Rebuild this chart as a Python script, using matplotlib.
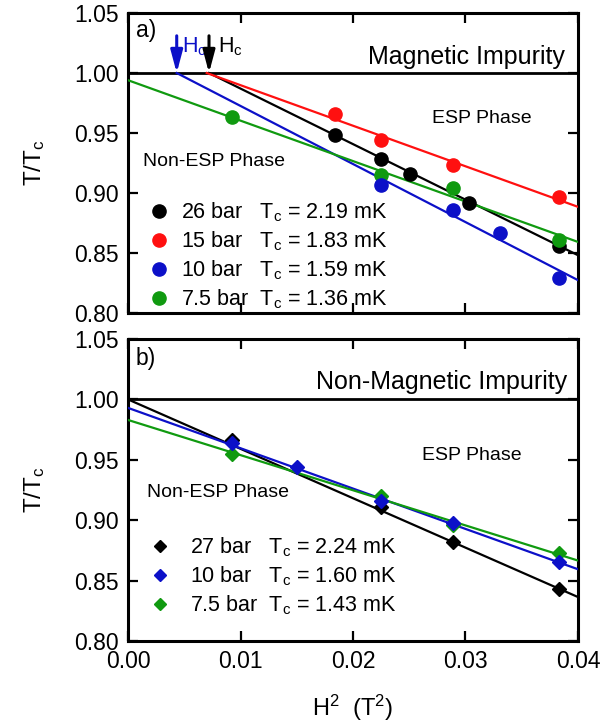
import numpy as np
import matplotlib
matplotlib.use('Agg')
import matplotlib.pyplot as plt
from matplotlib.lines import Line2D

plt.rcParams['font.family'] = ['Liberation Sans', 'DejaVu Sans']
plt.rcParams['mathtext.fontset'] = 'custom'
plt.rcParams['mathtext.rm'] = 'Liberation Sans'

# ---- panel a) magnetic impurity : H^2 (T^2) vs T/Tc ----
a_names = ['26 bar', '15 bar', '10 bar', '7.5 bar']
a_tc = ['2.19', '1.83', '1.59', '1.36']
a_colors = ['black', '#ff1010', '#0c10c8', '#109a10']

a_x = [
    [0.0184, 0.0225, 0.0251, 0.0303, 0.0383],
    [0.0184, 0.0225, 0.0289, 0.0383],
    [0.0225, 0.0289, 0.0331, 0.0383],
    [0.0092, 0.0225, 0.0289, 0.0383],
]
a_y = [
    [0.948, 0.928, 0.916, 0.892, 0.856],
    [0.966, 0.944, 0.923, 0.897],
    [0.907, 0.886, 0.867, 0.829],
    [0.963, 0.915, 0.904, 0.861],
]
# linear fits : start point (x0, y0) and slope
a_fit_x0 = [0.0072, 0.0070, 0.00433, 0.0]
a_fit_y0 = [1.0, 1.0, 1.0, 0.994]
a_fit_slope = [-4.63, -3.38, -4.84, -3.37]

# critical fields marked by arrows
hc_x = [0.00433, 0.0072]
hc_colors = ['#0c10c8', 'black']

# ---- panel b) non-magnetic impurity ----
b_names = ['27 bar', '10 bar', '7.5 bar']
b_tc = ['2.24', '1.60', '1.43']
b_colors = ['black', '#0c10c8', '#109a10']

b_x = [
    [0.0092, 0.0225, 0.0289, 0.0383],
    [0.0092, 0.0150, 0.0225, 0.0289, 0.0383],
    [0.0092, 0.0225, 0.0289, 0.0383],
]
b_y = [
    [0.966, 0.911, 0.882, 0.843],
    [0.964, 0.944, 0.916, 0.898, 0.865],
    [0.955, 0.920, 0.896, 0.873],
]
b_fit_x0 = [0.0, 0.0, 0.0]
b_fit_y0 = [1.0, 0.993, 0.983]
b_fit_slope = [-4.09, -3.34, -2.91]

yticks = [0.80, 0.85, 0.90, 0.95, 1.00, 1.05]
xticks = [0.00, 0.01, 0.02, 0.03, 0.04]


def style_axes(ax):
    ax.set_xlim(0, 0.04)
    ax.set_ylim(0.80, 1.05)
    ax.set_xticks(xticks)
    ax.set_yticks(yticks)
    ax.set_xticklabels(['%.2f' % t for t in xticks])
    ax.set_yticklabels(['%.2f' % t for t in yticks])
    ax.tick_params(direction='in', top=True, right=True, length=7.5, width=1.6,
                   labelsize=16.5, pad=6.5)
    for s in ax.spines.values():
        s.set_linewidth(2.2)
    ax.axhline(1.0, color='black', lw=2, zorder=2)
    ax.set_ylabel(r'$\mathregular{T/T_c}$', fontsize=17.5, labelpad=20)


def draw_fit(ax, x0, y0, slope, color):
    xs = np.array([x0, 0.041])
    ax.plot(xs, y0 + slope * (xs - x0), color=color, lw=1.6, zorder=3)


fig = plt.figure(figsize=(6.16, 7.23), dpi=100)
ax1 = fig.add_axes([0.2078, 0.5671, 0.7305, 0.4149])
ax2 = fig.add_axes([0.2078, 0.1134, 0.7305, 0.4177])

# panel a
style_axes(ax1)
ax1.tick_params(labelbottom=False)
for i in range(len(a_names)):
    draw_fit(ax1, a_fit_x0[i], a_fit_y0[i], a_fit_slope[i], a_colors[i])
for i in [1, 0, 3, 2]:
    ax1.plot(a_x[i], a_y[i], 'o', color=a_colors[i], ms=9.5, zorder=4)
handles = [Line2D([], [], ls='none', marker='o', color=c, ms=9.5) for c in a_colors]
sp = ['   ', '   ', '   ', '  ']
labels = [a_names[i] + sp[i] + r'$\mathregular{T_c}$ = ' + a_tc[i] + ' mK'
          for i in range(len(a_names))]
ax1.legend(handles, labels, loc='lower left', bbox_to_anchor=(0.047, 0.005),
           frameon=False, fontsize=15.5, handlelength=0.9, handletextpad=0.6,
           labelspacing=0.26, borderpad=0, borderaxespad=0)

for i in range(len(hc_x)):
    ax1.annotate('', xy=(hc_x[i], 1.0), xytext=(hc_x[i], 1.031),
                 arrowprops=dict(arrowstyle='-|>,head_length=0.75,head_width=0.2',
                                 color=hc_colors[i], lw=2.2, mutation_scale=18,
                                 shrinkA=0, shrinkB=0), zorder=5)
ax1.text(hc_x[0] + 0.0005, 1.017, r'$\mathregular{H_c}$', color=hc_colors[0], fontsize=15.5)
ax1.text(hc_x[1] + 0.0008, 1.017, r'$\mathregular{H_c}$', color=hc_colors[1], fontsize=15.5)

ax1.text(0.017, 0.919, 'a)', transform=ax1.transAxes, fontsize=16.5)
ax1.text(0.971, 0.83, 'Magnetic Impurity', transform=ax1.transAxes,
         fontsize=18, ha='right')
ax1.text(0.675, 0.632, 'ESP Phase', transform=ax1.transAxes, fontsize=14)
ax1.text(0.034, 0.491, 'Non-ESP Phase', transform=ax1.transAxes, fontsize=14)

# panel b
style_axes(ax2)
for i in range(len(b_names)):
    draw_fit(ax2, b_fit_x0[i], b_fit_y0[i], b_fit_slope[i], b_colors[i])
for i in [0, 2, 1]:
    ax2.plot(b_x[i], b_y[i], 'D', color=b_colors[i], ms=7.6, zorder=4)
handles = [Line2D([], [], ls='none', marker='D', color=c, ms=6.5) for c in b_colors]
sp = ['   ', '   ', '  ']
labels = [b_names[i] + sp[i] + r'$\mathregular{T_c}$ = ' + b_tc[i] + ' mK'
          for i in range(len(b_names))]
ax2.legend(handles, labels, loc='lower left', bbox_to_anchor=(0.049, 0.078),
           frameon=False, fontsize=15.5, handlelength=0.9, handletextpad=0.95,
           labelspacing=0.26, borderpad=0, borderaxespad=0)

ax2.text(0.016, 0.914, 'b)', transform=ax2.transAxes, fontsize=16.5)
ax2.text(0.975, 0.833, 'Non-Magnetic Impurity', transform=ax2.transAxes,
         fontsize=18, ha='right')
ax2.text(0.653, 0.599, 'ESP Phase', transform=ax2.transAxes, fontsize=14)
ax2.text(0.042, 0.476, 'Non-ESP Phase', transform=ax2.transAxes, fontsize=14)
ax2.set_xlabel(r'$\mathregular{H^2}$  $\mathregular{(T^2)}$', fontsize=17, labelpad=14)

fig.savefig('out.png', dpi=100)
